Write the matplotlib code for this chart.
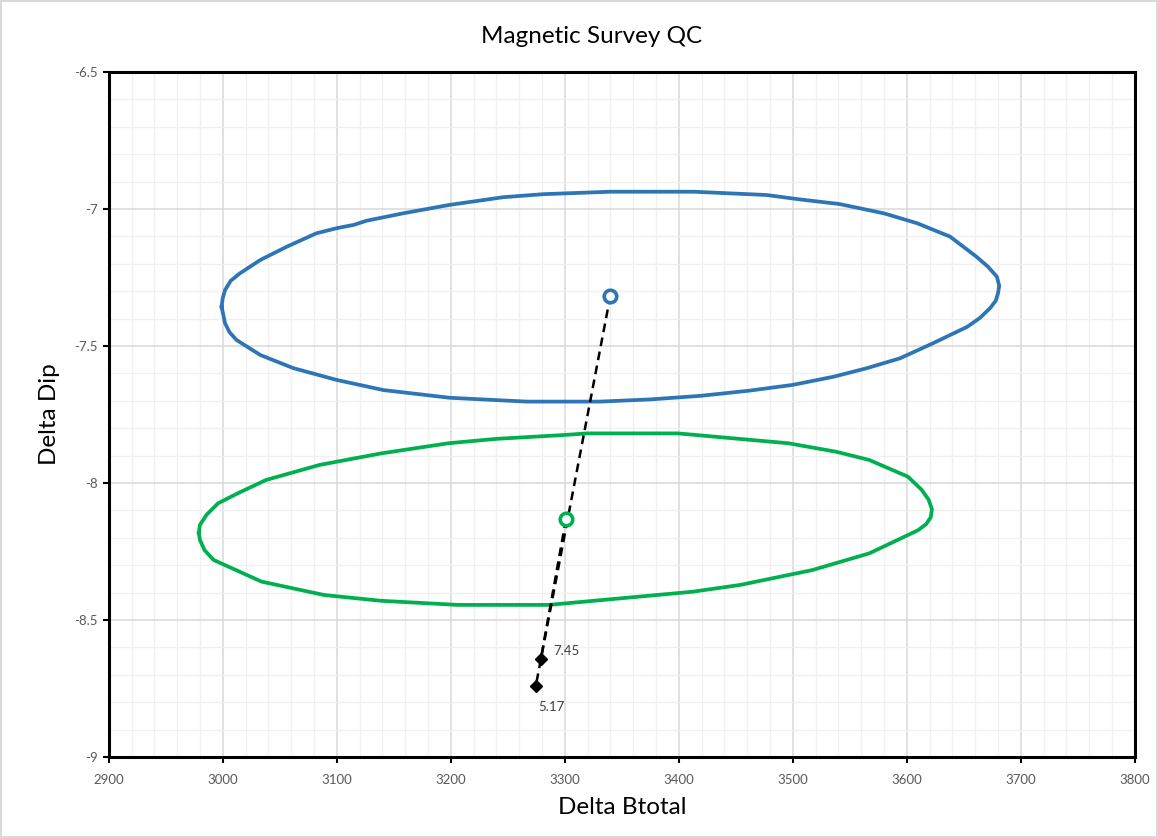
import matplotlib.pyplot as plt
from matplotlib.ticker import MultipleLocator

plt.rcParams['font.family'] = ['Lato', 'DejaVu Sans']

# Elipse azul (leitura ponto a ponto do grafico)
azul_x = [2999, 3000, 3002, 3007, 3015, 3033, 3056, 3082, 3100, 3115, 3126, 3158,
          3199, 3246, 3281, 3340, 3413, 3477, 3506, 3541, 3580, 3609, 3638, 3661,
          3671, 3679, 3681, 3680, 3678, 3673, 3664, 3653, 3623, 3594, 3565, 3536,
          3500, 3462, 3419, 3375, 3331, 3267, 3237, 3199, 3141, 3100, 3062, 3033,
          3012, 3006, 3002, 2999]
azul_y = [-7.357, -7.325, -7.296, -7.262, -7.235, -7.186, -7.138, -7.089, -7.070,
          -7.058, -7.043, -7.016, -6.985, -6.957, -6.946, -6.937, -6.937, -6.949,
          -6.965, -6.982, -7.016, -7.052, -7.101, -7.174, -7.210, -7.247, -7.280,
          -7.308, -7.335, -7.362, -7.398, -7.430, -7.490, -7.545, -7.581, -7.612,
          -7.642, -7.663, -7.682, -7.695, -7.703, -7.703, -7.697, -7.689, -7.661,
          -7.624, -7.581, -7.533, -7.478, -7.450, -7.417, -7.357]

# Elipse verde
verde_x = [2979, 2980, 2986, 2996, 3013, 3038, 3085, 3139, 3198, 3240, 3299, 3320,
           3399, 3496, 3538, 3567, 3601, 3613, 3619, 3622, 3621, 3617, 3610, 3601,
           3567, 3517, 3454, 3412, 3349, 3286, 3206, 3139, 3089, 3034, 2992, 2984,
           2980, 2979]
verde_y = [-8.182, -8.153, -8.115, -8.074, -8.038, -7.989, -7.934, -7.892, -7.855,
           -7.839, -7.825, -7.819, -7.819, -7.855, -7.886, -7.916, -7.977, -8.025,
           -8.060, -8.095, -8.125, -8.150, -8.172, -8.190, -8.257, -8.318, -8.372,
           -8.397, -8.421, -8.445, -8.445, -8.430, -8.409, -8.360, -8.281, -8.245,
           -8.208, -8.182]

# Centros e pontos de medida
centro_azul = (3340, -7.316)
centro_verde = (3301, -8.133)
pontos_x = [3279, 3274.6]
pontos_y = [-8.642, -8.740]
pontos_rotulo = ['7.45', '5.17']

fig = plt.figure(figsize=(11.58, 8.38), dpi=100)
fig.patch.set_edgecolor('#d9d9d9')
fig.patch.set_linewidth(1.5)
ax = fig.add_axes([0.0939, 0.0967, 0.8861, 0.8174])

ax.plot(azul_x, azul_y, color='#2E75B6', lw=2.7, zorder=3, solid_joinstyle='round')
ax.plot(verde_x, verde_y, color='#00B050', lw=2.7, zorder=3, solid_joinstyle='round')

# Linhas tracejadas: centro -> ponto
ax.plot([centro_azul[0], pontos_x[1]], [centro_azul[1], pontos_y[1]],
        color='black', lw=1.8, dashes=(3.5, 2.2), zorder=4)
ax.plot([centro_verde[0], pontos_x[0]], [centro_verde[1], pontos_y[0]],
        color='black', lw=1.8, dashes=(3.5, 2.2), zorder=4)

ax.plot(*centro_azul, 'o', ms=9, mfc='white', mec='#2E75B6', mew=2.6, zorder=5)
ax.plot(*centro_verde, 'o', ms=9, mfc='white', mec='#00B050', mew=2.6, zorder=5)
ax.plot(pontos_x, pontos_y, 'D', ms=6.5, color='black', zorder=5)

ax.annotate(pontos_rotulo[0], (pontos_x[0], pontos_y[0]), xytext=(9, 6),
            textcoords='offset points', fontsize=9.5, color='#404040', va='center')
ax.annotate(pontos_rotulo[1], (pontos_x[1], pontos_y[1]), xytext=(2, -15),
            textcoords='offset points', fontsize=9.5, color='#404040', va='center')

ax.set_xlim(2900, 3800)
ax.set_ylim(-9, -6.5)
ax.xaxis.set_major_locator(MultipleLocator(100))
ax.xaxis.set_minor_locator(MultipleLocator(20))
ax.yaxis.set_major_locator(MultipleLocator(0.5))
ax.yaxis.set_minor_locator(MultipleLocator(0.1))
ax.grid(which='major', color='#d9d9d9', lw=1.1, zorder=0)
ax.grid(which='minor', color='#f0f0f0', lw=1.0, zorder=0)
ax.set_axisbelow(True)

for s in ax.spines.values():
    s.set_linewidth(2.2)
    s.set_color('black')
ax.tick_params(which='major', length=4, width=1.5, direction='out', labelsize=9.5,
               labelcolor='#595959', pad=8)
ax.tick_params(which='minor', length=0)
ax.tick_params(axis='y', pad=4)
ax.set_yticklabels([f'{v:g}' for v in ax.get_yticks()])

fig.text(0.5105, 0.956, 'Magnetic Survey QC', fontsize=17.5, ha='center', va='center')
ax.set_xlabel('Delta Btotal', fontsize=17.5, labelpad=8)
ax.set_ylabel('Delta Dip', fontsize=17.5, labelpad=10)

fig.savefig('out.png', dpi=100)
